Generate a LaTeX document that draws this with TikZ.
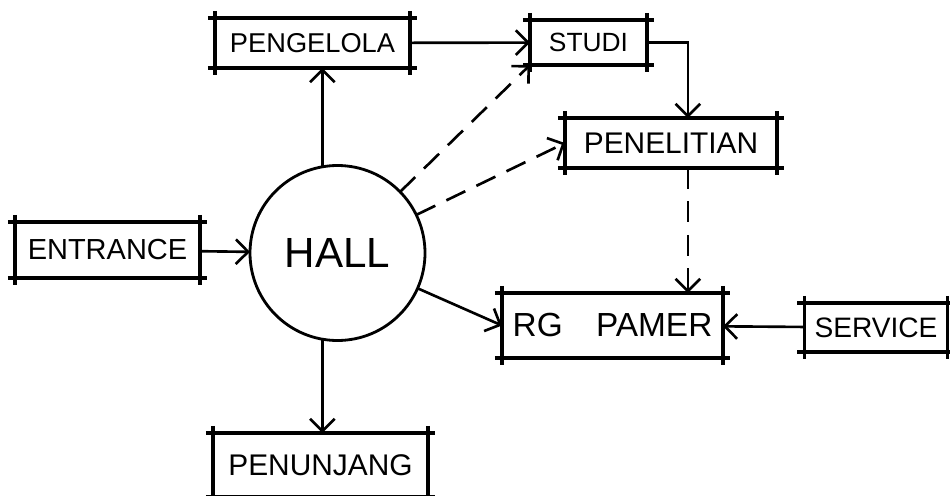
\documentclass[tikz,border=0pt]{standalone}
\usepackage{fontspec}
\setmainfont{Liberation Sans}
\usetikzlibrary{arrows.meta}

\begin{document}
\begin{tikzpicture}[
    >={Straight Barb[length=7pt,width=14pt]},
    room/.style={inner sep=0pt, outer sep=0pt, align=center},
    hallring/.style={circle, draw, line width=1.6pt, inner sep=0pt, outer sep=0pt, minimum size=3.5cm, font=\fontsize{24}{26}\selectfont},
    flow/.style={->, line width=1.5pt},
    flowdash/.style={->, line width=1.5pt, dash pattern=on 12pt off 7pt}
]
\useasboundingbox (0,0) rectangle (19,-9.9);

\node[room, minimum width=3.9cm, minimum height=1.0cm, font=\fontsize{15.5}{17}\selectfont] (pengelola) at (6.25,-0.86) {PENGELOLA};
\node[room, minimum width=2.34cm, minimum height=0.9cm, font=\fontsize{15}{17}\selectfont] (studi) at (11.77,-0.85) {STUDI};
\node[room, minimum width=4.24cm, minimum height=1.0cm, font=\fontsize{17}{19}\selectfont] (penelitian) at (13.42,-2.86) {PENELITIAN};
\node[room, minimum width=3.7cm, minimum height=1.12cm, font=\fontsize{16.5}{18}\selectfont] (entrance) at (2.15,-5.0) {ENTRANCE};
\node[hallring] (hall) at (6.75,-5.06) {HALL};
\node[room, minimum width=4.42cm, minimum height=1.3cm, font=\fontsize{19}{21}\selectfont] (pamer) at (12.25,-6.51) {RG\quad PAMER};
\node[room, minimum width=2.86cm, minimum height=0.98cm, font=\fontsize{16}{18}\selectfont] (service) at (17.52,-6.55) {SERVICE};
\node[room, minimum width=4.3cm, minimum height=1.28cm, font=\fontsize{17}{19}\selectfont] (penunjang) at (6.41,-9.3) {PENUNJANG};

% box edges, run a little past the corners
\foreach \n in {pengelola,studi,penelitian,entrance,pamer,service,penunjang}{
  \draw[line width=1.8pt, shorten <=-4pt, shorten >=-4pt] (\n.north west) -- (\n.north east);
  \draw[line width=1.8pt, shorten <=-4pt, shorten >=-4pt] (\n.south west) -- (\n.south east);
  \draw[line width=1.8pt, shorten <=-4pt, shorten >=-4pt] (\n.north west) -- (\n.south west);
  \draw[line width=1.8pt, shorten <=-4pt, shorten >=-4pt] (\n.north east) -- (\n.south east);
}

\draw[flow] (entrance) -- (hall);
\draw[flow] (hall.100) -- (hall.100 |- pengelola.south);
\draw[flow] (hall.260) -- (hall.260 |- penunjang.north);
\draw[flow] (pengelola) -- (studi);
\draw[flow] (studi.east) -| (penelitian.56);
\draw[flowdash] (hall) -- (studi.south west);
\draw[flowdash] (hall) -- (penelitian.west);
\draw[flowdash] (penelitian.304) -- (penelitian.304 |- pamer.north);
\draw[flow] (hall) -- (pamer.west);
\draw[flow] (service) -- (pamer);
\end{tikzpicture}
\end{document}
